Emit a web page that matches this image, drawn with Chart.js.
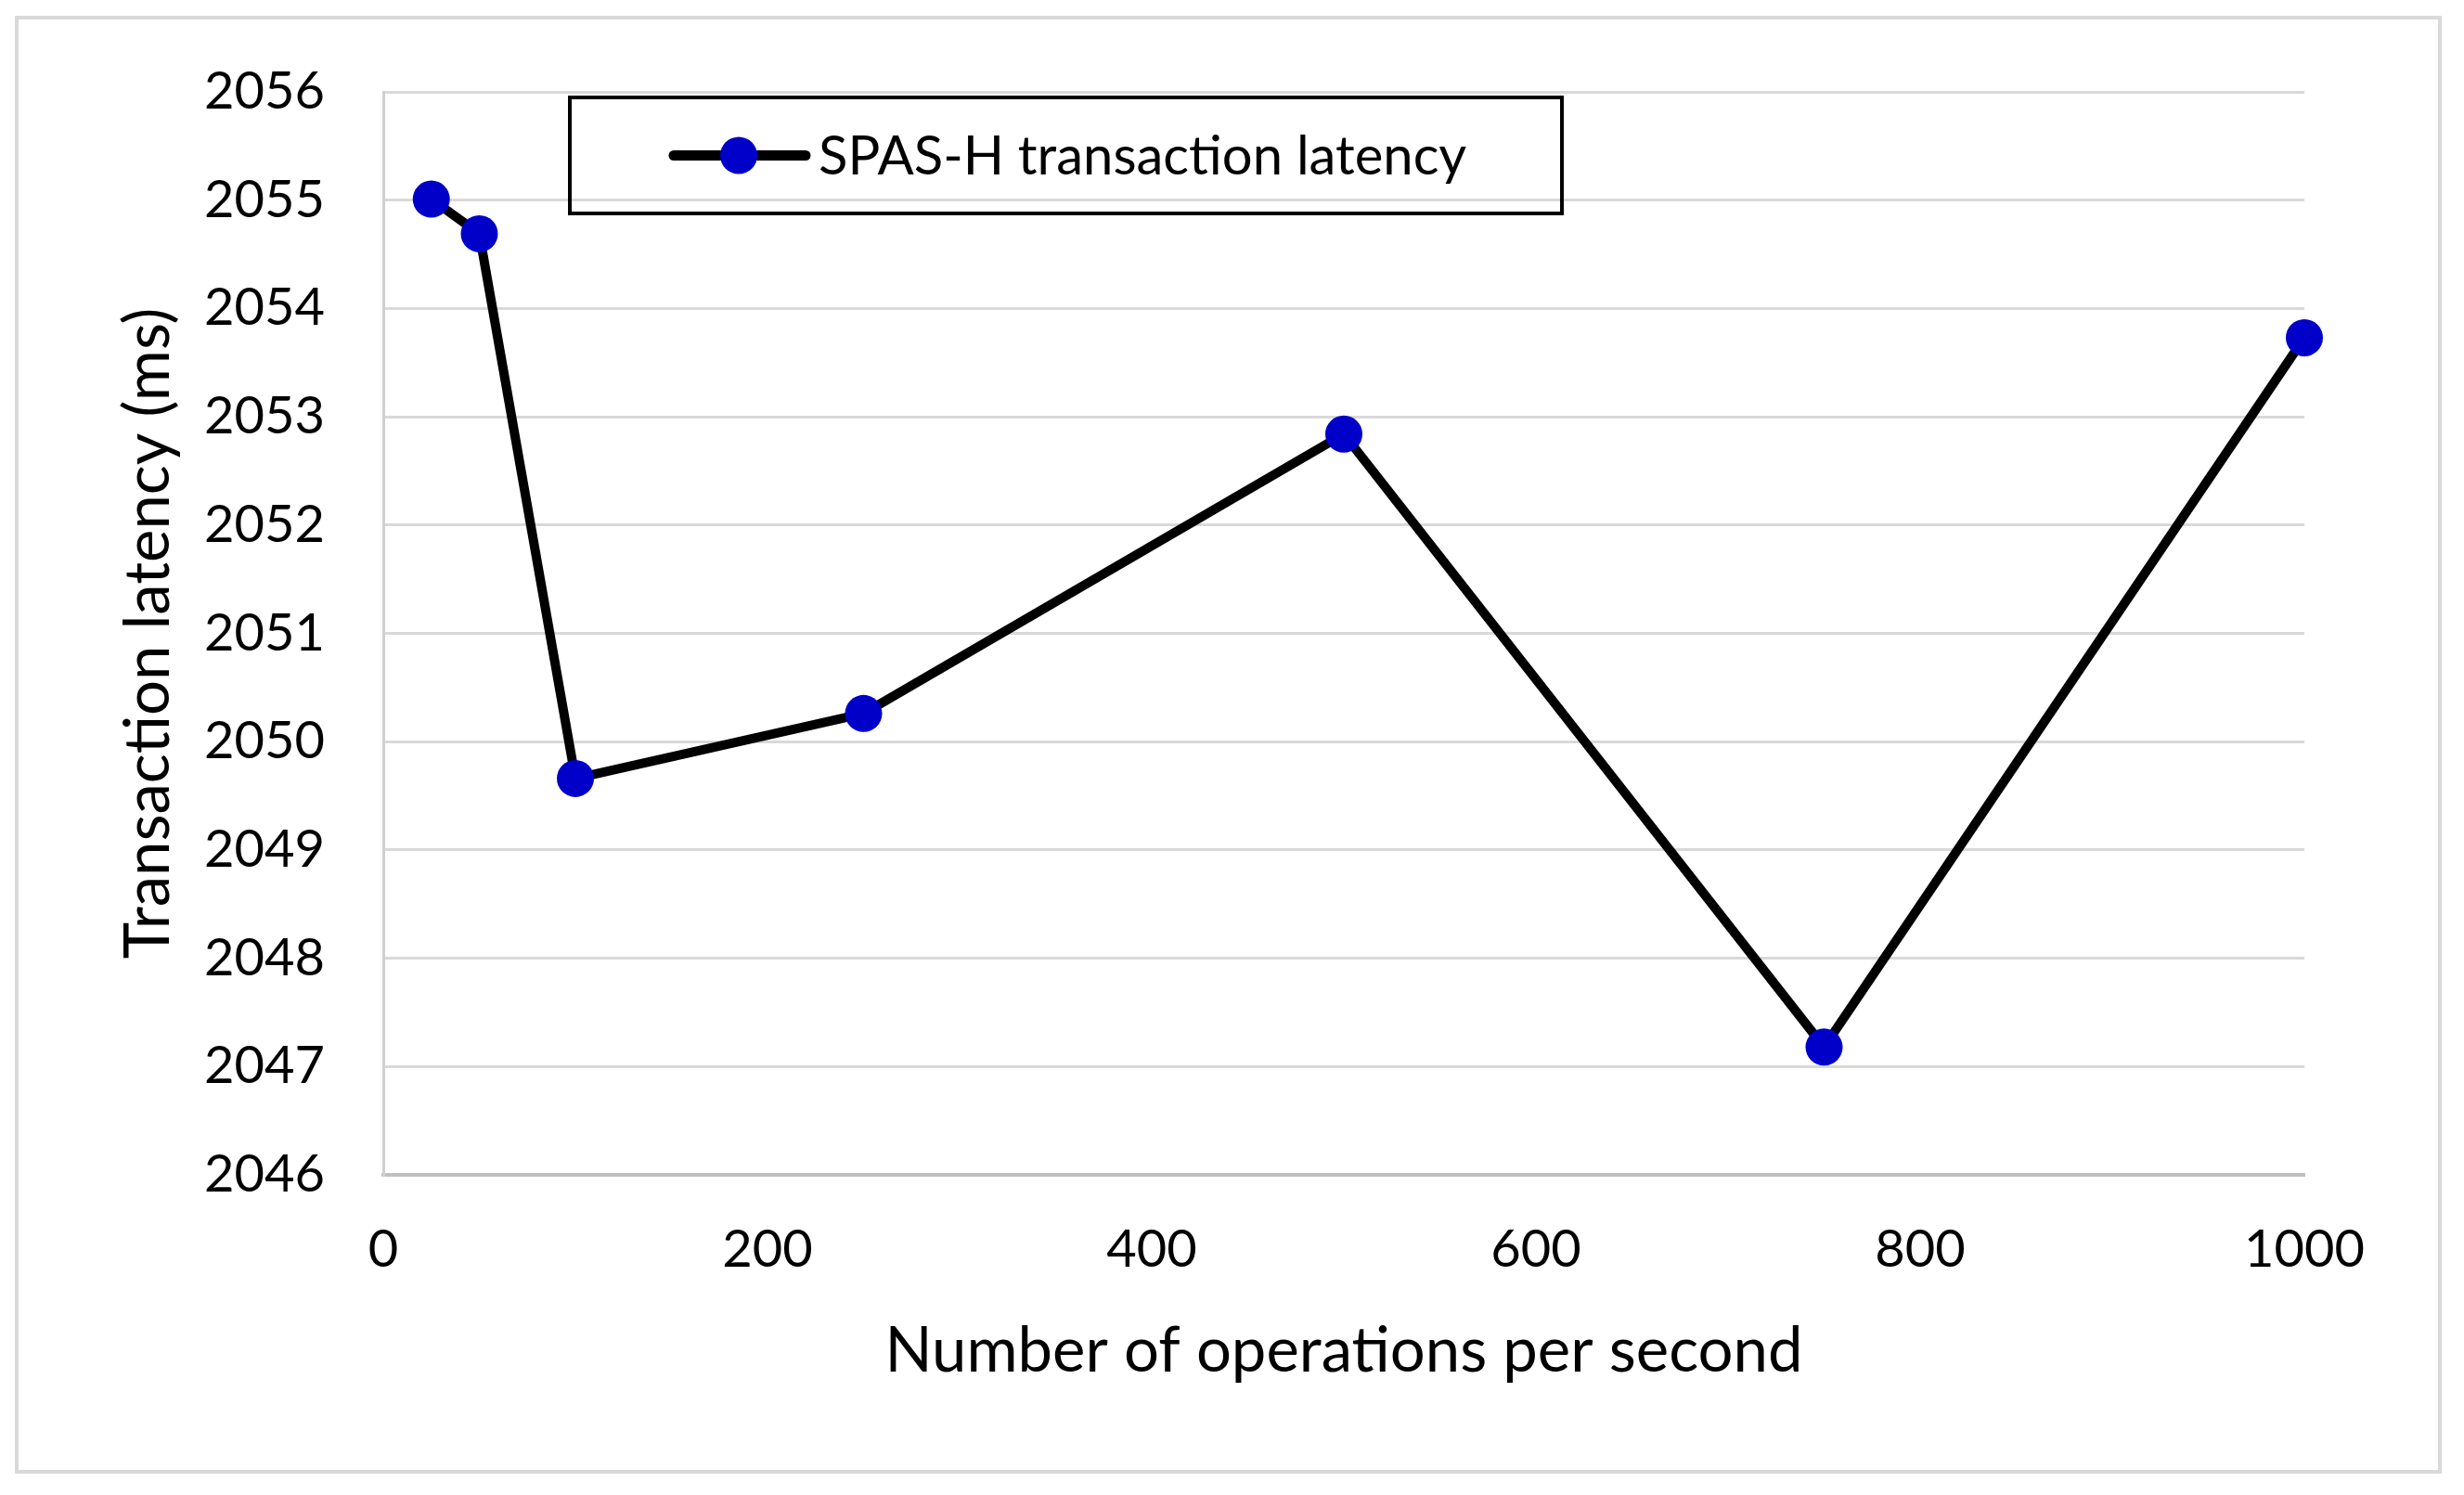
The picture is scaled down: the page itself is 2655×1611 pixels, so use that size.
<!DOCTYPE html>
<html>
<head>
<meta charset="utf-8">
<title>SPAS-H transaction latency</title>
<script src="https://cdn.jsdelivr.net/npm/chart.js@4.4.0/dist/chart.umd.min.js"></script>
<style>
  html, body { margin: 0; padding: 0; background: #ffffff; }
  canvas { display: block; }
</style>
</head>
<body>
<canvas id="grafico" width="2655" height="1611"></canvas>
<script>
// --- Datos ---
const serieNombre = 'SPAS-H transaction latency';
const operaciones = [25, 50, 100, 250, 500, 750, 1000];
const latencias = [2055.01, 2054.69, 2049.66, 2050.26, 2052.84, 2047.18, 2053.73];
const ticksX = [0, 200, 400, 600, 800, 1000];
const ticksY = [2046, 2047, 2048, 2049, 2050, 2051, 2052, 2053, 2054, 2055, 2056];

const FUENTE = 'Lato';

// Marco gris alrededor de todo el gráfico
const marcoPlugin = {
    id: 'marco',
    beforeDraw(chart) {
        const ctx = chart.ctx;
        ctx.save();
        ctx.fillStyle = '#ffffff';
        ctx.fillRect(0, 0, chart.width, chart.height);
        ctx.strokeStyle = '#d9d9d9';
        ctx.lineWidth = 4;
        ctx.strokeRect(18, 19, chart.width - 44, chart.height - 44);
        ctx.restore();
    }
};

// Leyenda con recuadro negro dentro del área del gráfico
const leyendaPlugin = {
    id: 'leyendaCaja',
    afterDraw(chart) {
        const ds = chart.data.datasets[0];
        const area = chart.chartArea;
        const ctx = chart.ctx;
        const x0 = area.left + 201, y0 = area.top + 6;
        const w = 1069, h = 125;
        const cy = y0 + h / 2;
        ctx.save();
        ctx.strokeStyle = '#000000';
        ctx.lineWidth = 4;
        ctx.strokeRect(x0, y0, w, h);
        // línea de muestra
        ctx.strokeStyle = ds.borderColor;
        ctx.lineWidth = 11;
        ctx.lineCap = 'round';
        ctx.beginPath();
        ctx.moveTo(x0 + 112, cy);
        ctx.lineTo(x0 + 254, cy);
        ctx.stroke();
        // marcador
        ctx.fillStyle = ds.pointBackgroundColor;
        ctx.beginPath();
        ctx.arc(x0 + 182, cy, ds.pointRadius, 0, Math.PI * 2);
        ctx.fill();
        // texto
        ctx.fillStyle = '#000000';
        ctx.font = '58px ' + FUENTE;
        ctx.textBaseline = 'middle';
        ctx.textAlign = 'left';
        ctx.fillText(ds.label, x0 + 268, cy + 2);
        ctx.restore();
    }
};

const ctx = document.getElementById('grafico').getContext('2d');
const grafico = new Chart(ctx, {
    type: 'line',
    data: {
        datasets: [{
            label: serieNombre,
            data: operaciones.map((x, i) => ({ x: x, y: latencias[i] })),
            borderColor: '#000000',
            borderWidth: 10,
            borderJoinStyle: 'round',
            borderCapStyle: 'round',
            tension: 0,
            clip: false,
            pointRadius: 20,
            pointBorderWidth: 0,
            pointBackgroundColor: '#0000c8',
            pointBorderColor: '#0000c8',
            fill: false
        }]
    },
    options: {
        responsive: false,
        animation: false,
        devicePixelRatio: 1,
        layout: { padding: { left: 0, top: 99, right: 172, bottom: 112 } },
        plugins: {
            legend: { display: false },
            tooltip: { enabled: false }
        },
        scales: {
            x: {
                type: 'linear',
                min: ticksX[0],
                max: ticksX[ticksX.length - 1],
                afterBuildTicks: s => { s.ticks = ticksX.map(v => ({ value: v })); },
                afterFit: s => { s.height = 233; },
                grid: { display: false, drawTicks: false },
                border: { display: true, color: '#c0c0c0', width: 4 },
                ticks: {
                    padding: 47,
                    color: '#000000',
                    font: { family: FUENTE, size: 56 },
                    callback: v => String(v)
                },
                title: {
                    display: true,
                    text: 'Number of operations per second',
                    color: '#000000',
                    font: { family: FUENTE, size: 67 },
                    padding: { top: 0, bottom: 2 }
                }
            },
            y: {
                type: 'linear',
                min: ticksY[0],
                max: ticksY[ticksY.length - 1],
                afterBuildTicks: s => { s.ticks = ticksY.map(v => ({ value: v })); },
                afterFit: s => { s.width = 413; },
                grid: { color: '#d9d9d9', lineWidth: 3, drawTicks: false },
                border: { display: true, color: '#d0d0d0', width: 3 },
                ticks: {
                    padding: 63,
                    color: '#000000',
                    font: { family: FUENTE, size: 56 },
                    callback: v => String(v)
                },
                title: {
                    display: true,
                    text: 'Transaction latency (ms)',
                    color: '#000000',
                    font: { family: FUENTE, size: 67 },
                    padding: { top: 120, bottom: 0 }
                }
            }
        }
    },
    plugins: [marcoPlugin, leyendaPlugin]
});
</script>
</body>
</html>
